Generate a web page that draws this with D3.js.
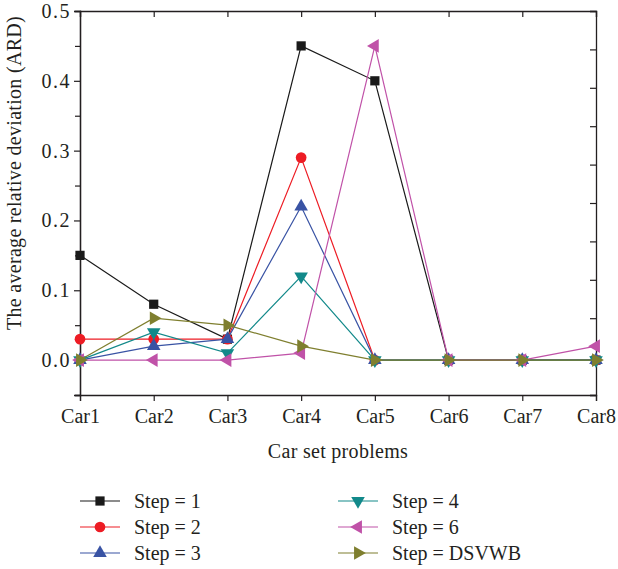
<!DOCTYPE html>
<html>
<head>
<meta charset="utf-8">
<script src="https://cdn.jsdelivr.net/npm/d3@7"></script>
<style>
  body { margin: 0; background: #fff; }
  svg text { font-family: "Liberation Serif", "DejaVu Serif", serif; fill: #231f20; }
</style>
</head>
<body>
<svg class="chart"></svg>
<script>
var width = 618;
var height = 569;

// data
var cars = ['Car1', 'Car2', 'Car3', 'Car4', 'Car5', 'Car6', 'Car7', 'Car8'];
var seriesNames = ['Step = 1', 'Step = 2', 'Step = 3', 'Step = 4', 'Step = 6', 'Step = DSVWB'];
var step1 = [0.15, 0.08, 0.03, 0.45, 0.40, 0, 0, 0];
var step2 = [0.03, 0.03, 0.03, 0.29, 0, 0, 0, 0];
var step3 = [0, 0.02, 0.03, 0.22, 0, 0, 0, 0];
var step4 = [0, 0.04, 0.01, 0.12, 0, 0, 0, 0];
var step6 = [0, 0, 0, 0.01, 0.45, 0, 0, 0.02];
var stepDSVWB = [0, 0.06, 0.05, 0.02, 0, 0, 0, 0];
var yTicks = [0, 0.1, 0.2, 0.3, 0.4, 0.5];

var colors = ['#1a1a1a', '#ed1c24', '#3953a4', '#12898a', '#c052a8', '#7f7f2f'];
var shapes = [d3.symbolSquare, d3.symbolCircle, d3.symbolTriangle, d3.symbolTriangle, d3.symbolTriangle, d3.symbolTriangle];
var rotations = [0, 0, 0, 180, -90, 90];
var sizes = [85, 90, 80, 80, 80, 80];

var series = [step1, step2, step3, step4, step6, stepDSVWB].map(function(vals, i){
  return {name: seriesNames[i], values: vals, color: colors[i], shape: shapes[i], rot: rotations[i], size: sizes[i]};
});

var margin = {'top': 11, 'right': 22, 'bottom': 174, 'left': 80};

var chart = d3.select('.chart')
  .attr('width', width)
  .attr('height', height);

var x = d3.scalePoint()
  .domain(cars)
  .range([margin.left, width - margin.right]);

var y = d3.scaleLinear()
  .domain([-0.05, 0.5])
  .range([height - margin.bottom, margin.top]);

// right axis just splits the frame in 10
var yRight = d3.scaleLinear()
  .domain([0, 10])
  .range([height - margin.bottom, margin.top]);

var axisColor = '#231f20';

// bottom axis
chart.append('g')
  .attr('transform', 'translate(0,' + (height - margin.bottom) + ')')
  .call(d3.axisBottom(x).tickSize(6).tickPadding(8));
// top axis, ticks inward
chart.append('g')
  .attr('transform', 'translate(0,' + margin.top + ')')
  .call(d3.axisTop(x).tickSize(-6).tickFormat(''));
// left axis, minor ticks
chart.append('g')
  .attr('transform', 'translate(' + margin.left + ',0)')
  .call(d3.axisLeft(y).tickValues(d3.range(-0.05, 0.5, 0.1)).tickSize(5).tickFormat(''));
// left axis, major
chart.append('g')
  .attr('transform', 'translate(' + margin.left + ',0)')
  .call(d3.axisLeft(y).tickValues(yTicks).tickSize(6).tickPadding(3).tickFormat(d3.format('.1f')))
  .selectAll('text').style('letter-spacing', '1.5px');
// right axis, ticks inward
chart.append('g')
  .attr('transform', 'translate(' + (width - margin.right) + ',0)')
  .call(d3.axisRight(yRight).ticks(10).tickSize(-6).tickFormat(''));

chart.selectAll('.domain').attr('stroke', axisColor).attr('stroke-width', 1.3);
chart.selectAll('.tick line').attr('stroke', axisColor).attr('stroke-width', 1.2);
chart.selectAll('.tick text').style('font-size', '20px').attr('fill', axisColor);

// axis titles
chart.append('text')
  .attr('x', (margin.left + width - margin.right) / 2)
  .attr('y', 458)
  .attr('text-anchor', 'middle')
  .style('font-size', '20px')
  .style('letter-spacing', '0.3px')
  .text('Car set problems');

chart.append('text')
  .attr('transform', 'translate(21,173) rotate(-90)')
  .attr('text-anchor', 'middle')
  .style('font-size', '20px')
  .style('letter-spacing', '0.3px')
  .text('The average relative deviation (ARD)');

var line = d3.line()
  .x(function(d, i){ return x(cars[i]); })
  .y(function(d){ return y(d); });

var symbolPath = function(s){ return d3.symbol().type(s.shape).size(s.size)(); };

var groups = chart.append('g')
  .selectAll('g')
  .data(series)
  .join('g');

groups.append('path')
  .attr('d', function(d){ return line(d.values); })
  .attr('fill', 'none')
  .attr('stroke', function(d){ return d.color; })
  .attr('stroke-width', 1.2);

groups.selectAll('path.marker')
  .data(function(d){ return d.values.map(function(v, i){ return {v: v, i: i, s: d}; }); })
  .join('path')
    .attr('class', 'marker')
    .attr('d', function(d){ return symbolPath(d.s); })
    .attr('transform', function(d){
      return 'translate(' + x(cars[d.i]) + ',' + y(d.v) + ') rotate(' + d.s.rot + ')';
    })
    .attr('fill', function(d){ return d.s.color; });

// legend
var legend = chart.append('g')
  .selectAll('g')
  .data(series)
  .join('g')
    .attr('transform', function(d, i){
      var col = Math.floor(i / 3), row = i % 3;
      return 'translate(' + (80 + col * 258) + ',' + (501 + row * 26) + ')';
    });

legend.append('line')
  .attr('x1', 0).attr('x2', 40)
  .attr('stroke', function(d){ return d.color; })
  .attr('stroke-width', 1.2);

legend.append('path')
  .attr('d', function(d){ return symbolPath(d); })
  .attr('transform', function(d){ return 'translate(20,0) rotate(' + d.rot + ')'; })
  .attr('fill', function(d){ return d.color; });

legend.append('text')
  .attr('x', 54)
  .attr('y', 7)
  .style('font-size', '20px')
  .text(function(d){ return d.name; });
</script>
</body>
</html>
